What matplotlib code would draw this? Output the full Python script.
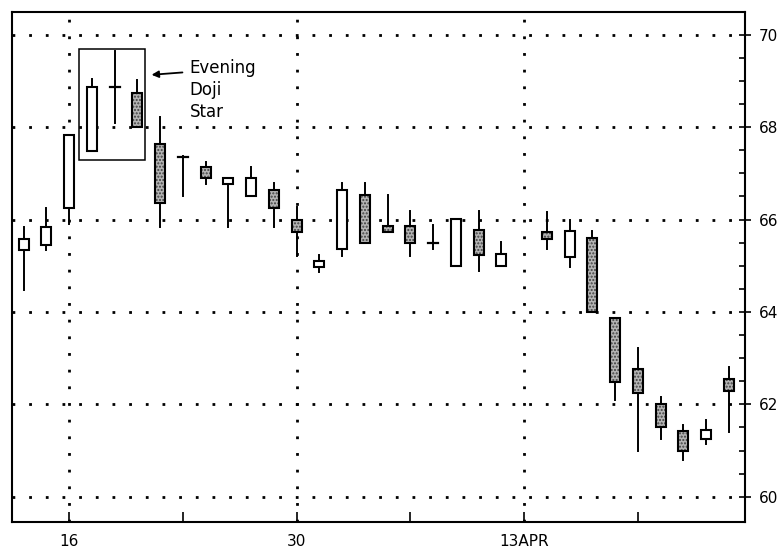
import matplotlib.pyplot as plt
from matplotlib.patches import Rectangle

# daily candles, slot 22 is the holiday gap (13APR)
slots = list(range(0, 22)) + list(range(23, 32))
opens = [65.34, 65.44, 66.25, 67.49, 68.87, 68.75, 67.63, 67.38, 67.13, 66.78,
         66.51, 66.65, 66.00, 64.98, 65.36, 66.54, 65.87, 65.86, 65.50, 64.99,
         65.77, 65.00,
         65.74, 65.20, 65.60, 63.87, 62.77, 62.00, 61.43, 61.25, 62.55]
highs = [65.84, 66.26, 67.84, 69.04, 69.64, 69.02, 68.23, 67.38, 67.25, 66.89,
         67.14, 66.79, 66.27, 65.23, 66.79, 66.80, 66.54, 66.18, 65.88, 66.02,
         66.18, 65.51,
         66.17, 66.00, 65.75, 63.87, 63.22, 62.16, 61.55, 61.66, 62.80]
lows = [64.47, 65.34, 65.91, 67.49, 68.09, 68.00, 65.84, 66.51, 66.78, 65.84,
        66.51, 65.84, 65.21, 64.87, 65.21, 65.49, 65.74, 65.21, 65.36, 64.99,
        64.89, 65.00,
        65.36, 64.98, 64.00, 62.10, 61.00, 61.25, 60.79, 61.15, 61.40]
closes = [65.57, 65.84, 67.84, 68.87, 68.87, 68.00, 66.36, 67.36, 66.89, 66.89,
          66.91, 66.25, 65.73, 65.11, 66.65, 65.49, 65.74, 65.49, 65.50, 66.02,
          65.23, 65.25,
          65.59, 65.75, 64.00, 62.48, 62.25, 61.50, 61.00, 61.45, 62.30]

date_slots = [2, 12, 22]
date_labels = ['16', '30', '13APR']
week_slots = [7, 17, 27]
price_ticks = [60, 62, 64, 66, 68, 70]

fig = plt.figure(figsize=(7.78, 5.48), dpi=100)
ax = fig.add_axes([0.015, 0.048, 0.9425, 0.9306])

# dotted grid
dot = (0, (1.0, 5.0))
for p in price_ticks:
    ax.axhline(p, color='black', lw=2.0, ls=dot, zorder=1)
for s in date_slots:
    ax.axvline(s, color='black', lw=2.0, ls=dot, zorder=1)

w = 0.44
for s, o, h, l, c in zip(slots, opens, highs, lows, closes):
    top = max(o, c)
    bot = min(o, c)
    ax.plot([s, s], [l, h], color='black', lw=1.4, zorder=2)
    if abs(c - o) < 0.03:
        ax.plot([s - w / 2, s + w / 2], [c, c], color='black', lw=1.6, zorder=3)
        continue
    if c < o:
        # stippled fill for down days
        ax.add_patch(Rectangle((s - w / 2, bot), w, top - bot, facecolor='#b4b4b4',
                               edgecolor='#404040', hatch='.....', lw=0, zorder=3))
        fc = 'none'
    else:
        fc = 'white'
    ax.add_patch(Rectangle((s - w / 2, bot), w, top - bot, facecolor=fc,
                           edgecolor='black', lw=1.5, zorder=4))

# box round the evening doji star
ax.add_patch(Rectangle((2.44, 67.29), 2.9, 2.4, facecolor='none',
                       edgecolor='black', lw=1.1, zorder=5))
ax.annotate('', xy=(5.5, 69.13), xytext=(7.1, 69.19),
            arrowprops=dict(arrowstyle='-|>', color='black', lw=1.3))
ax.text(7.3, 69.47, 'Evening\nDoji\nStar', fontsize=12, va='top', ha='left',
        linespacing=1.28)

ax.set_xlim(-0.53, 31.71)
ax.set_ylim(59.46, 70.5)

ax.yaxis.tick_right()
ax.set_yticks(price_ticks)
ax.set_yticklabels([str(p) for p in price_ticks], fontsize=11)
ax.set_yticks([p + 0.5 * k for p in range(60, 70) for k in (0, 1) if (p + 0.5 * k) not in price_ticks], minor=True)
ax.tick_params(axis='y', which='major', direction='inout', length=8, width=1.2, pad=6)
ax.tick_params(axis='y', which='minor', direction='in', length=4, width=1.2)

ax.set_xticks(date_slots)
ax.set_xticklabels(date_labels, fontsize=11)
ax.set_xticks(week_slots, minor=True)
ax.tick_params(axis='x', which='both', direction='in', length=7, width=1.2, pad=9)

for sp in ax.spines.values():
    sp.set_linewidth(1.5)

fig.savefig('out.png', dpi=100)
